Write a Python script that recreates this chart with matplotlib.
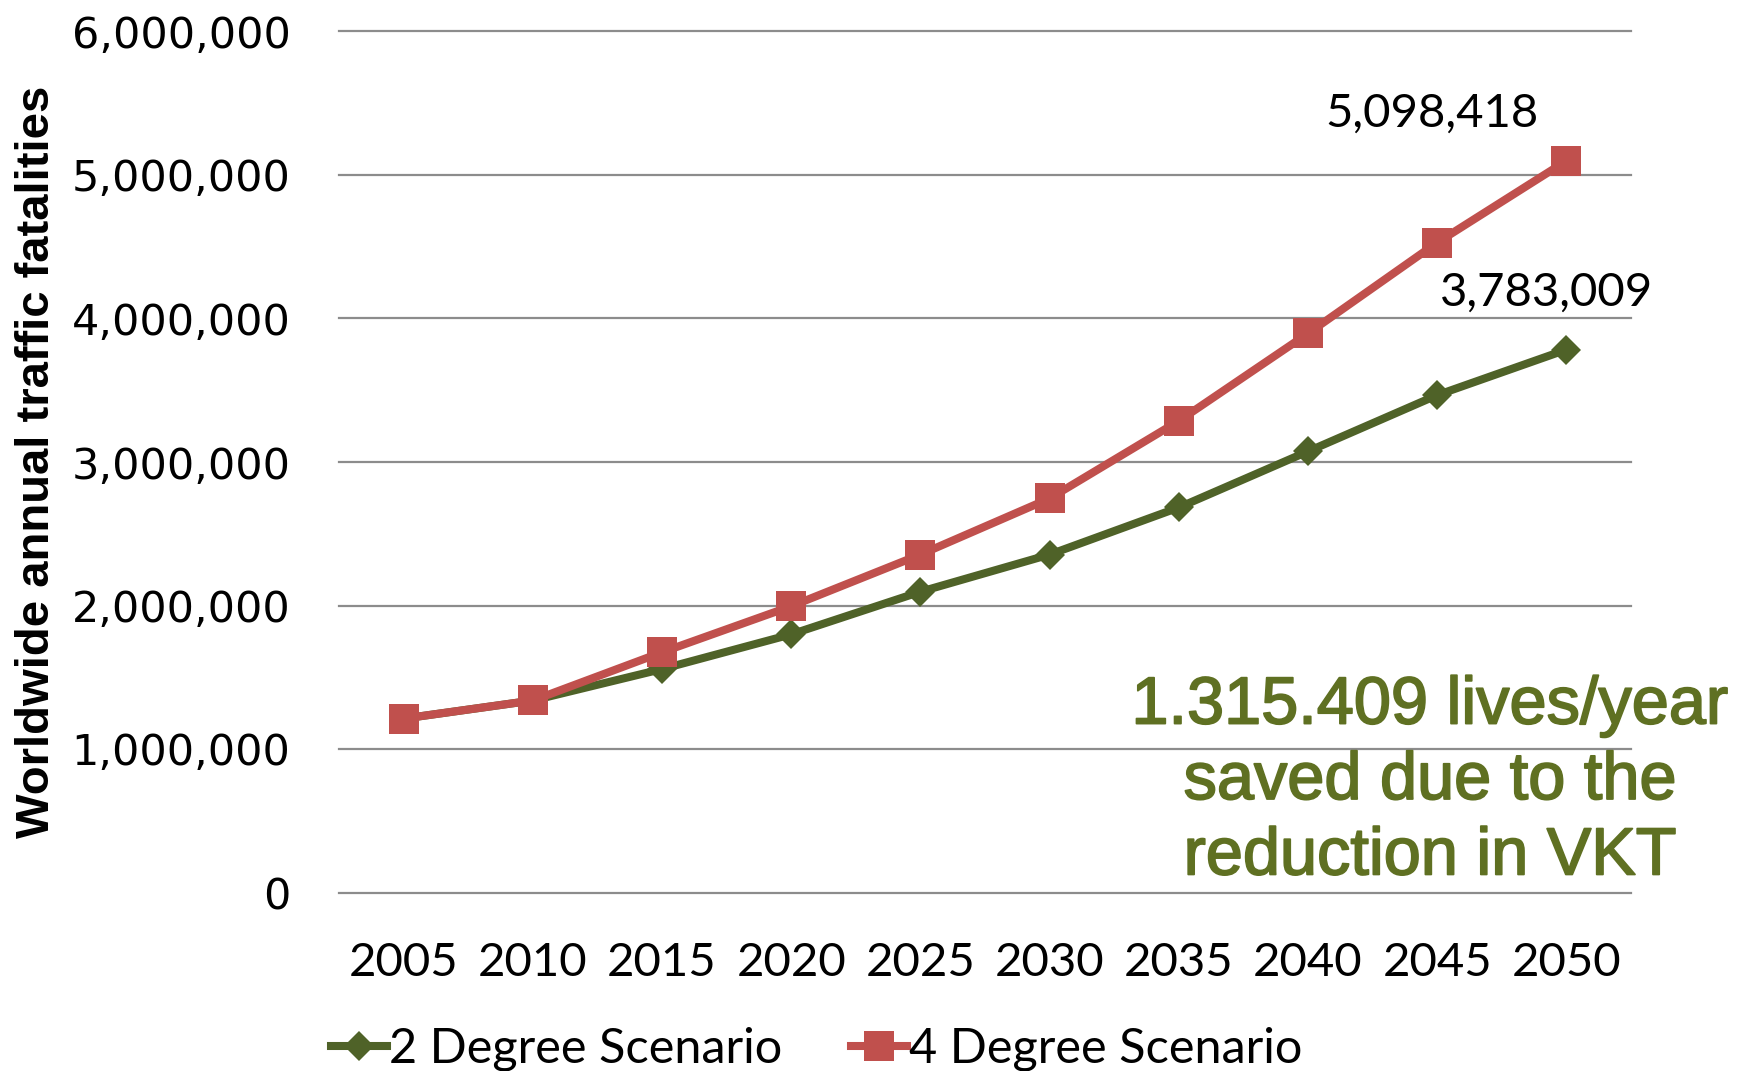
import matplotlib
matplotlib.use("Agg")
import matplotlib.pyplot as plt
import matplotlib.patheffects as pe
from matplotlib.ticker import FuncFormatter

years = ["2005", "2010", "2015", "2020", "2025", "2030", "2035", "2040", "2045", "2050"]
two_degree = [1212000, 1338000, 1557000, 1799000, 2096000, 2355000, 2683000, 3074000, 3466000, 3783009]
four_degree = [1212000, 1338000, 1674000, 1995000, 2355000, 2746000, 3286000, 3896000, 4529000, 5098418]
series_names = ["2 Degree Scenario", "4 Degree Scenario"]
savings_note = "1.315.409 lives/year\nsaved due to the\nreduction in VKT"

GREEN = "#4F6228"
RED = "#C0504D"
NOTE_GREEN = "#5F7022"
GRID = "#8C8C8C"

fig = plt.figure(figsize=(17.6, 10.71), dpi=100)
ax = fig.add_axes([339 / 1760, 1 - 892.5 / 1071, (1631 - 339) / 1760, (892.5 - 31.5) / 1071])

x = list(range(len(years)))
ax.plot(x, two_degree, color=GREEN, lw=5.8, marker="D", ms=15.5, mew=0,
        label=series_names[0], zorder=3)
ax.plot(x, four_degree, color=RED, lw=5.8, marker="s", ms=22, mew=0,
        label=series_names[1], zorder=4)

ax.set_xlim(-0.5, len(years) - 0.5)
ax.set_ylim(0, 6000000)
ax.set_yticks(range(0, 6000001, 1000000))
ax.yaxis.set_major_formatter(FuncFormatter(lambda v, _: f"{int(v):,}"))
ax.set_xticks(x)
ax.set_xticklabels(years, family="Lato", fontsize=34)
for lbl in ax.get_yticklabels():
    lbl.set_family("DejaVu Sans")
    lbl.set_fontsize(31)

ax.tick_params(axis="y", length=0, pad=35)
ax.tick_params(axis="x", length=0, pad=36)
ax.grid(axis="y", color=GRID, lw=1.6)
ax.set_axisbelow(True)
for gl in ax.get_ygridlines():
    gl.set_clip_on(False)
for side in ("left", "right", "top", "bottom"):
    ax.spines[side].set_visible(False)

# end-point value labels
ax.text(x[-1] - 1.04, four_degree[-1] + 330000, f"{four_degree[-1]:,}",
        family="Lato", fontsize=34, ha="center", va="center")
ax.text(x[-1] - 0.15, two_degree[-1] + 400000, f"{two_degree[-1]:,}",
        family="Lato", fontsize=34, ha="center", va="center")

fig.text(1430 / 1760, 1 - 782 / 1071, savings_note, color=NOTE_GREEN,
         family="Liberation Sans", fontsize=48, ha="center", va="center",
         linespacing=1.28,
         path_effects=[pe.withStroke(linewidth=1.3, foreground=NOTE_GREEN)])

fig.text(37 / 1760, 1 - 462 / 1071, "Worldwide annual traffic fatalities",
         family="Liberation Sans", weight="bold",
         fontsize=34, rotation=90, ha="center", va="center")

fig.legend(loc="center left", bbox_to_anchor=(331 / 1760, 1 - 1049 / 1071),
           ncol=2, frameon=False, prop={"family": "Lato", "size": 35},
           handlelength=1.15, handletextpad=0.05, columnspacing=1.4,
           borderpad=0, borderaxespad=0)

fig.savefig("out.png", dpi=100)
